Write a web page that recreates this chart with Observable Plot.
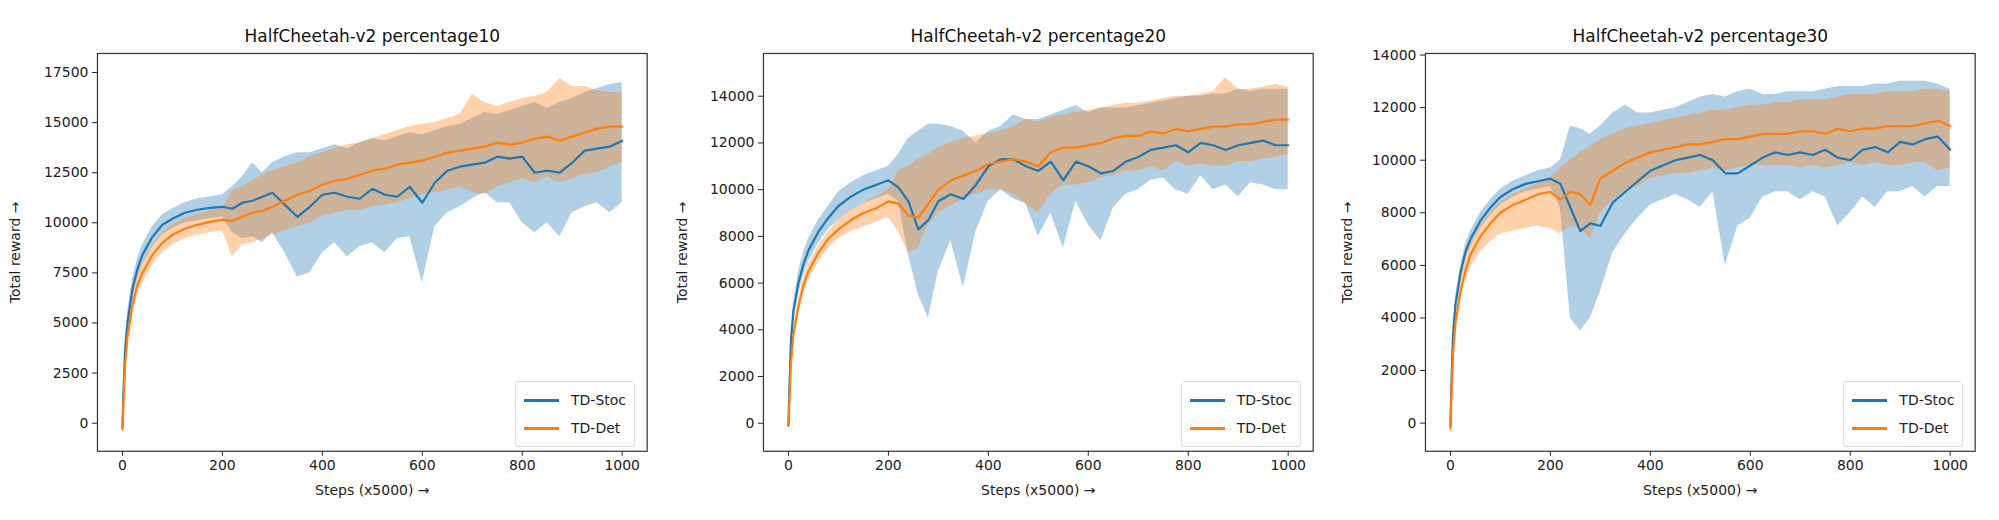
<!DOCTYPE html>
<html><head><meta charset="utf-8">
<script src="https://cdn.jsdelivr.net/npm/d3@7"></script>
<script src="https://cdn.jsdelivr.net/npm/@observablehq/plot@0.6"></script>
<style>
body{margin:0;background:#fff;font-family:"DejaVu Sans",sans-serif;}
#row{display:flex;width:1999px;}
.panel{position:relative;}
.legend{position:absolute;border:1px solid #ddd;border-radius:3px;background:rgba(255,255,255,0.85);font-size:14px;color:#222;padding:4px 8px;}
.legend div{display:flex;align-items:center;height:28px;}
.legend span.sw{display:inline-block;width:35px;height:3px;margin-right:12px;}
</style></head><body>
<div id="row"></div>
<script>
const steps=[0,2,5,10,20,30,40,60,80,100,125,150,175,200,220,240,260,280,300,325,350,375,400,425,450,475,500,525,550,575,600,625,650,675,700,725,750,775,800,825,850,875,900,925,950,975,1000];
const titles=["HalfCheetah-v2 percentage10","HalfCheetah-v2 percentage20","HalfCheetah-v2 percentage30"];
const seriesNames=["TD-Stoc","TD-Det"];
const yTicks1=[0,2500,5000,7500,10000,12500,15000,17500];
const yTicks2=[0,2000,4000,6000,8000,10000,12000,14000];
const yTicks3=[0,2000,4000,6000,8000,10000,12000,14000];
const xTicks=[0,200,400,600,800,1000];

const p1StocMean=[-200,1500,3500,5000,6700,7700,8400,9300,9900,10200,10500,10650,10750,10800,10700,11000,11100,11300,11500,10900,10300,10800,11400,11500,11300,11200,11700,11400,11300,11800,11000,12000,12600,12800,12900,13000,13300,13200,13300,12500,12600,12500,13000,13600,13700,13800,14100];
const p1StocLo=[-300,1200,3000,4500,6200,7200,7900,8800,9400,9700,10000,10100,10200,10300,9500,9200,9300,9000,9500,8500,7300,7500,8500,9000,8300,8800,9000,8500,9200,9300,7000,9800,10500,10800,11200,11500,11000,11000,10000,9500,10000,9300,10500,10800,11000,10500,11000];
const p1StocHi=[-100,1800,4000,5500,7200,8200,8900,9800,10400,10700,11000,11200,11300,11400,11800,12300,13000,12500,13000,13300,13500,13500,13700,13900,13700,14000,14200,14100,14300,14500,14400,14600,14800,14900,15200,15500,15400,15600,15800,16000,15700,16000,16200,16500,16700,16900,17000];
const p1DetMean=[-300,1000,2800,4300,5900,6900,7500,8400,9000,9400,9700,9900,10050,10150,10100,10300,10500,10600,10800,11100,11400,11600,11900,12100,12200,12400,12600,12700,12900,13000,13100,13300,13500,13600,13700,13800,14000,13900,14000,14200,14300,14100,14300,14500,14700,14800,14800];
const p1DetLo=[-400,700,2400,3800,5400,6400,7000,7900,8500,8900,9200,9400,9500,9600,8300,8900,9000,9200,9400,9600,9800,10000,10300,10500,10600,10600,10800,10900,11000,11200,11400,11500,11600,11800,11500,11400,11800,12000,12200,12000,12300,12000,12200,12400,12500,12800,13000];
const p1DetHi=[-200,1300,3200,4800,6400,7400,8000,8900,9500,9900,10200,10400,10600,10700,11600,11800,12100,12400,12600,12800,13000,13300,13500,13700,13900,14000,14200,14400,14600,14800,14900,15000,15200,15400,16400,16000,15800,16000,16200,16300,16500,17200,16800,16800,16600,16500,16500];

const p2StocMean=[-100,1500,3500,4800,6000,6800,7400,8200,8800,9300,9700,10000,10200,10400,10100,9500,8300,8700,9500,9800,9600,10200,11000,11300,11300,11000,10800,11200,10400,11200,11000,10700,10800,11200,11400,11700,11800,11900,11600,12000,11900,11700,11900,12000,12100,11900,11900];
const p2StocLo=[-200,1200,3100,4400,5500,6300,6900,7700,8300,8700,9100,9400,9600,9800,9500,7200,5500,4500,6500,7800,5800,8200,9500,10000,9600,9400,8000,9000,7500,9500,8500,7800,9200,9800,10000,10400,10500,10000,9800,10600,10000,10200,9700,10300,10200,10000,10000];
const p2StocHi=[0,1800,3900,5200,6500,7300,7900,8700,9300,9900,10300,10600,10800,11000,11500,12200,12500,12800,12800,12700,12500,12000,12500,12700,13200,13000,13000,13200,13400,13600,13300,13500,13500,13500,13600,13700,13800,13900,14000,14000,14100,14100,14300,14200,14300,14300,14300];
const p2DetMean=[-100,1000,2600,3800,5000,5900,6500,7300,7900,8300,8700,9000,9200,9500,9400,8900,8800,9400,10000,10400,10600,10800,11100,11200,11300,11200,11000,11600,11800,11800,11900,12000,12200,12300,12300,12500,12400,12600,12500,12600,12700,12700,12800,12800,12900,13000,13000];
const p2DetLo=[-200,700,2300,3500,4700,5600,6100,6900,7500,7900,8200,8400,8600,8800,8200,7300,7500,8500,9000,9300,9600,9800,10000,10000,9800,9400,9000,9800,10200,10200,10300,10500,10600,10800,10800,11000,10800,11200,11000,11100,11000,11000,11200,11200,11300,11400,11500];
const p2DetHi=[0,1300,2900,4100,5300,6200,6800,7600,8200,8700,9100,9400,9700,10000,10800,11000,11300,11500,11800,12000,12200,12300,12400,12500,12700,13000,12900,13100,13200,13300,13400,13500,13600,13700,13700,13800,13900,14000,14000,14100,14200,14800,14300,14300,14400,14500,14400];

const p3StocMean=[-100,1500,3300,4500,5700,6500,7000,7700,8200,8600,8900,9100,9200,9300,9100,8200,7300,7600,7500,8400,8800,9200,9600,9800,10000,10100,10200,10000,9500,9500,9800,10100,10300,10200,10300,10200,10400,10100,10000,10400,10500,10300,10700,10600,10800,10900,10400];
const p3StocLo=[-200,1200,3000,4200,5400,6200,6700,7400,7900,8300,8600,8800,8900,9000,8200,4000,3500,4000,5000,6500,7200,7800,8300,8500,8700,8500,8200,8800,6000,7500,7800,8600,8800,8800,8500,8800,8600,7500,8000,8600,8200,8800,8800,9000,8600,9000,9000];
const p3StocHi=[0,1800,3600,4800,6000,6800,7300,8000,8500,8900,9200,9400,9600,9700,10000,11300,11200,11000,11300,11800,12100,11800,11800,11900,12000,12200,12400,12500,12400,12600,12700,12500,12500,12600,12600,12600,12700,12800,12800,12800,12900,12900,13000,13000,13000,12900,12700];
const p3DetMean=[-200,1000,2600,3800,5000,5800,6400,7100,7600,8000,8300,8500,8700,8800,8500,8800,8700,8300,9300,9600,9900,10100,10300,10400,10500,10600,10600,10700,10800,10800,10900,11000,11000,11000,11100,11100,11000,11200,11100,11200,11200,11300,11300,11300,11400,11500,11300];
const p3DetLo=[-300,700,2200,3400,4600,5400,5900,6500,6900,7200,7300,7400,7500,7400,7200,7500,7400,7000,8000,8500,8800,9000,9300,9400,9500,9500,9600,9700,9600,9700,9800,9800,9800,9800,9700,9800,9700,9800,9900,9800,9900,9800,9800,9900,9900,9600,9700];
const p3DetHi=[-100,1300,3000,4200,5400,6200,6800,7500,8000,8400,8700,8900,9100,9300,9700,10000,10300,10500,10800,11000,11200,11300,11400,11500,11600,11700,11800,11900,11900,12000,12100,12100,12200,12200,12300,12300,12300,12400,12500,12500,12500,12600,12600,12600,12700,12700,12600];

const colors=["#1f77b4","#ff7f0e"];
function rows(mean,lo,hi,name){return steps.map((s,i)=>({step:s,mean:mean[i],lo:lo[i],hi:hi[i],series:name}));}

const panels=[
 {title:titles[0],ticks:yTicks1,domain:[-1400,18450],ml:97,mr:20,stoc:rows(p1StocMean,p1StocLo,p1StocHi,seriesNames[0]),det:rows(p1DetMean,p1DetLo,p1DetHi,seriesNames[1])},
 {title:titles[1],ticks:yTicks2,domain:[-1200,15830],ml:96,mr:20,stoc:rows(p2StocMean,p2StocLo,p2StocHi,seriesNames[0]),det:rows(p2DetMean,p2DetLo,p2DetHi,seriesNames[1])},
 {title:titles[2],ticks:yTicks3,domain:[-1070,14060],ml:93,mr:24,stoc:rows(p3StocMean,p3StocLo,p3StocHi,seriesNames[0]),det:rows(p3DetMean,p3DetLo,p3DetHi,seriesNames[1])}
];
const row=document.getElementById("row");
for(const p of panels){
  const W=p.ml+550+p.mr;
  const plot=Plot.plot({
    width:W,height:520,marginLeft:p.ml,marginRight:p.mr,marginTop:53,marginBottom:69,
    style:{fontFamily:"DejaVu Sans, sans-serif",fontSize:"14px",color:"#222",background:"#fff"},
    x:{domain:[-50,1050],ticks:xTicks,tickSize:5,label:"Steps (x5000)",labelAnchor:"center",labelOffset:44,tickFormat:d=>String(d)},
    y:{domain:p.domain,ticks:p.ticks,tickSize:5,label:"Total reward",labelAnchor:"center",labelOffset:p.ml-10,tickFormat:d=>String(d)},
    marks:[
      Plot.areaY(p.stoc,{x:"step",y1:"lo",y2:"hi",fill:colors[0],fillOpacity:0.35}),
      Plot.areaY(p.det,{x:"step",y1:"lo",y2:"hi",fill:colors[1],fillOpacity:0.35}),
      Plot.lineY(p.stoc,{x:"step",y:"mean",stroke:colors[0],strokeWidth:2.2}),
      Plot.lineY(p.det,{x:"step",y:"mean",stroke:colors[1],strokeWidth:2.2}),
      Plot.frame({stroke:"#333",strokeWidth:1.2}),
      Plot.text([p.title],{text:d=>d,frameAnchor:"top",dy:-24,fontSize:17,fill:"#111"})
    ]
  });
  const div=document.createElement("div");div.className="panel";div.style.width=W+"px";
  div.appendChild(plot);
  const lg=document.createElement("div");lg.className="legend";
  lg.style.left=(p.ml+550-132)+"px";lg.style.top="381px";
  lg.innerHTML=seriesNames.map((n,i)=>`<div><span class="sw" style="background:${colors[i]}"></span>${n}</div>`).join("");
  div.appendChild(lg);
  row.appendChild(div);
}
</script></body></html>
